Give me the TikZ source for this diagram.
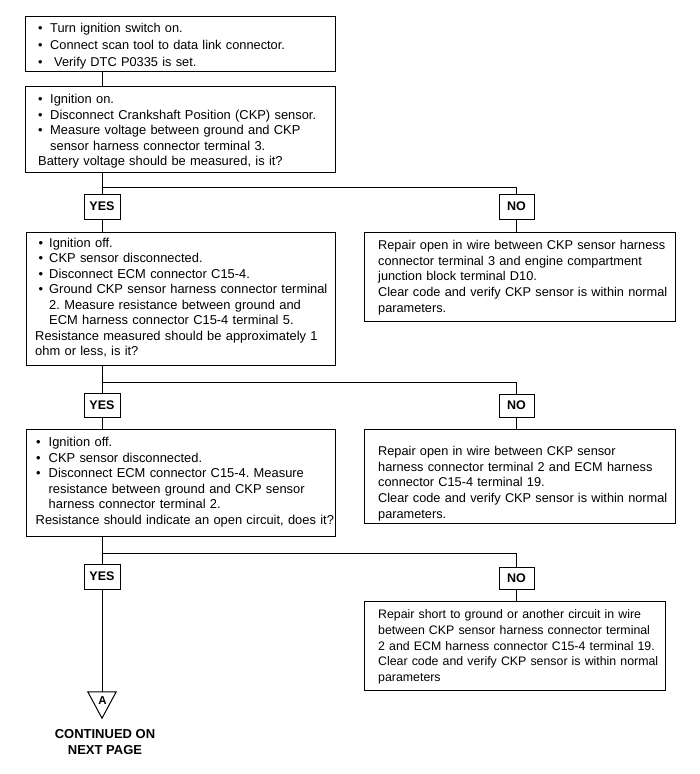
\documentclass[tikz,border=0pt]{standalone}
\usepackage{fontspec}
\setmainfont{Liberation Sans}
\frenchspacing
\newcommand\bi[3]{\makebox[#2][l]{\hspace*{#1}\textbullet}#3}
\newcommand\bc[2]{\hspace*{#1}#2}
\newcommand\fst[1]{\noindent\rule{0pt}{#1}}
\begin{document}
\frenchspacing
\begin{tikzpicture}[x=1pt,y=-1pt,
  box/.style={draw=black, line width=1pt, inner sep=0pt, anchor=north west},
  txt/.style={inner sep=0pt, anchor=north west, align=left},
  lft/.style={font=\fontsize{12.9}{15.5}\selectfont},
  rgt/.style={font=\fontsize{12.75}{15.8}\selectfont},
  lab/.style={draw=black, line width=1pt, minimum width=36pt, minimum height=25pt, inner sep=0pt, font=\fontsize{12.5}{14}\selectfont\bfseries},
  con/.style={line width=1pt}]
\useasboundingbox (0,0) rectangle (700,774);

% boxes
\node[box, minimum width=310, minimum height=55] (b1) at (25,16) {};
\node[box, minimum width=310, minimum height=86] (b2) at (25,86) {};
\node[box, minimum width=309, minimum height=133] (b3) at (26,232) {};
\node[box, minimum width=311, minimum height=89] (b4) at (364,232) {};
\node[box, minimum width=309, minimum height=107] (b5) at (26,429) {};
\node[box, minimum width=311, minimum height=94] (b6) at (364,429) {};
\node[box, minimum width=301, minimum height=89] (b7) at (364,601) {};

% texts
\node[txt, text width=300, font=\fontsize{12.8}{17}\selectfont] (t1) at (38,16) {\fst{16.3pt}\bi{0pt}{12pt}{Turn ignition switch on.}\\
\bi{0pt}{12pt}{Connect scan tool to data link connector.}\\
\bi{0pt}{16pt}{Verify DTC P0335 is set.}};

\node[txt, lft, text width=300] (t2) at (38,86) {\fst{17.3pt}\bi{0pt}{12pt}{Ignition on.}\\
\bi{0pt}{12pt}{Disconnect Crankshaft Position (CKP) sensor.}\\
\bi{0pt}{12pt}{Measure voltage between ground and CKP}\\
\bc{12pt}{sensor harness connector terminal 3.}\\
Battery voltage should be measured, is it?};

\node[txt, lft, text width=305] (t3) at (35,232) {\fst{15pt}\bi{3.5pt}{14pt}{Ignition off.}\\
\bi{3.5pt}{14pt}{CKP sensor disconnected.}\\
\bi{3.5pt}{14pt}{Disconnect ECM connector C15-4.}\\
\bi{3.5pt}{14pt}{Ground CKP sensor harness connector terminal}\\
\bc{14pt}{2. Measure resistance between ground and}\\
\bc{14pt}{ECM harness connector C15-4 terminal 5.}\\
Resistance measured should be approximately 1\\
ohm or less, is it?};

\node[txt, rgt, text width=305] (t4) at (378,232) {\fst{17pt}Repair open in wire between CKP sensor harness\\
connector terminal 3 and engine compartment\\
junction block terminal D10.\\
Clear code and verify CKP sensor is within normal\\
parameters.};

\node[txt, lft, text width=305] (t5) at (35.5,429) {\fst{17.7pt}\bi{0.5pt}{13pt}{Ignition off.}\\
\bi{0.5pt}{13pt}{CKP sensor disconnected.}\\
\bi{0.5pt}{13pt}{Disconnect ECM connector C15-4. Measure}\\
\bc{13pt}{resistance between ground and CKP sensor}\\
\bc{13pt}{harness connector terminal 2.}\\
Resistance should indicate an open circuit, does it?};

\node[txt, rgt, text width=305] (t6) at (378,429) {\fst{26pt}Repair open in wire between CKP sensor\\
harness connector terminal 2 and ECM harness\\
connector C15-4 terminal 19.\\
Clear code and verify CKP sensor is within normal\\
parameters.};

\node[txt, text width=300, font=\fontsize{12.35}{15.8}\selectfont] (t7) at (378,601) {\fst{17.3pt}Repair short to ground or another circuit in wire\\
between CKP sensor harness connector terminal\\
2 and ECM harness connector C15-4 terminal 19.\\
Clear code and verify CKP sensor is within normal\\
parameters};

% YES / NO labels
\node[lab] (y1) at (102,206.5) {YES};
\node[lab, minimum width=35] (n1) at (516.5,206.5) {NO};
\node[lab, minimum height=24] (y2) at (102,405) {YES};
\node[lab, minimum width=35, minimum height=23] (n2) at (516.5,405.5) {NO};
\node[lab] (y3) at (102,576.5) {YES};
\node[lab, minimum width=35, minimum height=22] (n3) at (516.5,578) {NO};

% junctions
\coordinate (j1) at (102,187);
\coordinate (j2) at (102,382);
\coordinate (j3) at (102,553);

% off-page connector
\node[inner sep=0pt, minimum width=28, minimum height=26] (tri) at (102,705) {};
\draw[con, line join=miter] (tri.north west) -- (tri.north east) -- (tri.south) -- cycle;
\node[inner sep=0pt, font=\fontsize{11.5}{13}\selectfont\bfseries] (lA) at (102.5,700.5) {A};
\node[inner sep=0pt, anchor=north, align=center, font=\fontsize{13}{16}\selectfont\bfseries] (cont) at (105,728) {\rule{0pt}{10pt}CONTINUED ON\\NEXT PAGE};

% connectors
\draw[con] (b1.south -| y1) -- (b2.north -| y1);
\draw[con] (b2.south -| y1) -- (y1.north);
\draw[con] (j1) -| (n1.north);
\draw[con] (y1.south) -- (b3.north -| y1);
\draw[con] (n1.south) -- (b4.north -| n1);
\draw[con] (b3.south -| y2) -- (y2.north);
\draw[con] (j2) -| (n2.north);
\draw[con] (y2.south) -- (b5.north -| y2);
\draw[con] (n2.south) -- (b6.north -| n2);
\draw[con] (b5.south -| y3) -- (y3.north);
\draw[con] (j3) -| (n3.north);
\draw[con] (y3.south) -- (tri.north);
\draw[con] (n3.south) -- (b7.north -| n3);
\end{tikzpicture}
\end{document}
